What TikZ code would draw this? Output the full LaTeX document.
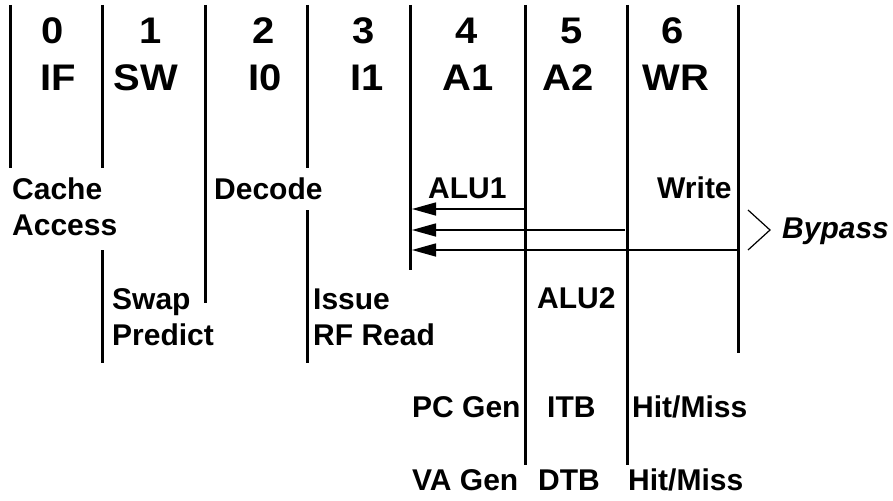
\documentclass[tikz,border=0pt]{standalone}
\usepackage{fontspec}
\setmainfont{Liberation Sans}
\newfontfamily\stagefont[FakeStretch=1.08]{Liberation Sans}
\usetikzlibrary{arrows.meta}
\begin{document}
\begin{tikzpicture}[x=1pt,y=-1pt,
  stage/.style={line width=3pt},
  hdr/.style={font=\stagefont\fontsize{37}{37}\selectfont\bfseries, inner sep=0pt, anchor=base},
  lbl/.style={font=\fontsize{30}{30}\selectfont\bfseries, inner sep=0pt, anchor=base west},
  byp/.style={line width=1.5pt, -{Triangle[length=24pt,width=13pt]}}]
\useasboundingbox (0,0) rectangle (893,500);

% stage boundaries
\draw[stage] (10,5) -- (10,168);
\draw[stage] (102,5) -- (102,168);
\draw[stage] (102,250) -- (102,363);
\draw[stage] (205,5) -- (205,303);
\draw[stage] (307,5) -- (307,168);
\draw[stage] (307,210) -- (307,363);
\draw[stage] (410,5) -- (410,270);
\draw[stage] (525,5) -- (525,465);
\draw[stage] (627,5) -- (627,465);
\draw[stage] (738,5) -- (738,353);

% stage numbers and names
\node[hdr] (n0) at (53,44) {0};
\node[hdr] (s0) at (58,91) {IF};
\node[hdr] (n1) at (151,44) {1};
\node[hdr] (s1) at (146,91) {SW};
\node[hdr] (n2) at (264,44) {2};
\node[hdr] (s2) at (265,91) {I0};
\node[hdr] (n3) at (364,44) {3};
\node[hdr] (s3) at (367,91) {I1};
\node[hdr] (n4) at (467,44) {4};
\node[hdr] (s4) at (468,91) {A1};
\node[hdr] (n5) at (572,44) {5};
\node[hdr] (s5) at (568,91) {A2};
\node[hdr] (n6) at (673,44) {6};
\node[hdr] (s6) at (676,91) {WR};

% operations in each stage
\node[lbl] (cache) at (12,199) {Cache};
\node[lbl] (access) at (12,235) {Access};
\node[lbl] (decode) at (214,199) {Decode};
\node[lbl] (alu1) at (428,198) {ALU1};
\node[lbl] (write) at (657,198) {Write};
\node[lbl] (swap) at (112,309) {Swap};
\node[lbl] (predict) at (112,345) {Predict};
\node[lbl] (issue) at (313,309) {Issue};
\node[lbl] (rfread) at (313,345) {RF Read};
\node[lbl] (alu2) at (537,308) {ALU2};
\node[lbl] (pcgen) at (412,417) {PC Gen};
\node[lbl] (itb) at (547,417) {ITB};
\node[lbl] (hm1) at (632,417) {Hit/Miss};
\node[lbl] (vagen) at (412,490) {VA Gen};
\node[lbl] (dtb) at (538,490) {DTB};
\node[lbl] (hm2) at (628,490) {Hit/Miss};

% bypass paths back into A1
\coordinate (a1in1) at (412,209);
\coordinate (a1in2) at (412,230);
\coordinate (a1in3) at (412,250);
\coordinate (fromA2) at (525,209);
\coordinate (fromWR) at (625,230);
\coordinate (fromEnd) at (738,250);
\draw[byp] (fromA2) -- (a1in1);
\draw[byp] (fromWR) -- (a1in2);
\draw[byp] (fromEnd) -- (a1in3);

\coordinate (gt1) at (748,210);
\coordinate (gt2) at (770,230);
\coordinate (gt3) at (748,250);
\draw[line width=1.2pt] (gt1) -- (gt2) -- (gt3);
\node[lbl, font=\fontsize{30}{30}\selectfont\bfseries\itshape] (bypass) at (782,238) {Bypass};
\end{tikzpicture}
\end{document}
